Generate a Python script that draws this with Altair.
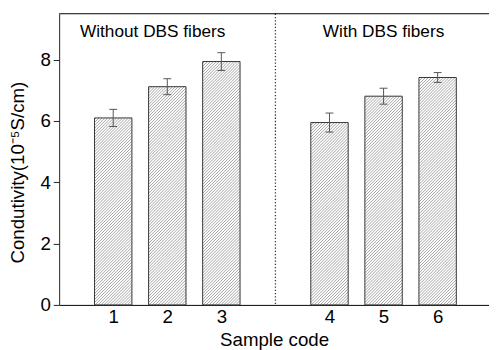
import altair as alt
import pandas as pd

# ---- data ----
samples = ["1", "2", "3", "4", "5", "6"]
groups = ["Without", "Without", "Without", "With", "With", "With"]
values = [6.10, 7.12, 7.94, 5.95, 6.81, 7.42]
errors = [0.28, 0.26, 0.29, 0.31, 0.26, 0.16]
group_titles = ["Without DBS fibers", "With DBS fibers"]
title_x = [1.73, 6.0]
title_y = [8.9, 8.9]

# ---- layout ----
W, H = 437, 296
XMIN, XMAX = 0.0, 7.95
YMIN, YMAX = 0.0, 9.5
BAR_PX = 38
CAP_PX = 8
HATCH_PX = 3.0
sx = W / (XMAX - XMIN)
sy = H / (YMAX - YMIN)
hw = BAR_PX / 2 / sx
chw = CAP_PX / 2 / sx

# position: sample index with a one-slot gap between the groups
pos = []
p = 0
prev = None
for g in groups:
    p += 1
    if prev is not None and g != prev:
        p += 1
    pos.append(p)
    prev = g
sep = (pos[2] + pos[3]) / 2

df = pd.DataFrame({"sample": samples, "pos": pos, "val": values, "err": errors})
df["base"] = 0.0
df["left"] = df["pos"] - hw
df["right"] = df["pos"] + hw
df["cl"] = df["pos"] - chw
df["cr"] = df["pos"] + chw
df["lo"] = df["val"] - df["err"]
df["hi"] = df["val"] + df["err"]

# hatch segments ("/" direction, 45 degrees on screen), clipped to each bar
rows = []
for _, r in df.iterrows():
    bw = BAR_PX
    bh = r["val"] * sy
    k = -bw + HATCH_PX / 2
    while k < bh:
        x0 = max(0.0, -k)
        x1 = min(bw, bh - k)
        if x1 > x0:
            rows.append({
                "hx": r["left"] + x0 / sx, "hy": (x0 + k) / sy,
                "hx2": r["left"] + x1 / sx, "hy2": (x1 + k) / sy,
            })
        k += HATCH_PX
hatch = pd.DataFrame(rows)

ann = pd.DataFrame({"t": group_titles, "x": title_x, "y": title_y})

label_expr = "''"
for ps, s in zip(reversed(pos), reversed(samples)):
    label_expr = f"datum.value == {ps} ? '{s}' : ({label_expr})"

FONT = "Liberation Sans"
xs = alt.Scale(domain=[XMIN, XMAX], nice=False, zero=False)
ys = alt.Scale(domain=[YMIN, YMAX], nice=False)

base = alt.Chart(df)

bars_fill = base.mark_rect(color="white").encode(
    x=alt.X("left:Q", scale=xs,
            axis=alt.Axis(values=pos, labelExpr=label_expr, title="Sample code",
                          ticks=False, grid=False, domainColor="black",
                          labelFontSize=19, labelPadding=3, labelColor="black",
                          titleFontSize=19, titleFontWeight="normal", titleColor="black",
                          titleBaseline="alphabetic", titleY=41, labelFlush=False)),
    x2="right:Q",
    y=alt.Y("val:Q", scale=ys,
            axis=alt.Axis(values=[0, 2, 4, 6, 8], title="Condutivity(10⁻⁵S/cm)",
                          grid=False, domainColor="#222222", tickColor="#222222",
                          tickSize=6, labelFontSize=19, labelPadding=3, labelColor="black",
                          titleFontSize=19, titleFontWeight="normal", titleColor="black",
                          titleBaseline="alphabetic", titleX=-36, titleY=161,
                          titleAngle=-90)),
    y2="base:Q",
)

hatch_layer = alt.Chart(hatch).mark_rule(color="#858585", strokeWidth=0.75).encode(
    x=alt.X("hx:Q", scale=xs), y=alt.Y("hy:Q", scale=ys),
    x2="hx2:Q", y2="hy2:Q",
)

bars_stroke = base.mark_rect(filled=False, stroke="#333333", strokeWidth=1).encode(
    x=alt.X("left:Q", scale=xs), x2="right:Q",
    y=alt.Y("val:Q", scale=ys), y2="base:Q",
)

err_rule = base.mark_rule(color="#555555", strokeWidth=1).encode(
    x=alt.X("pos:Q", scale=xs), y=alt.Y("lo:Q", scale=ys), y2="hi:Q",
)
err_lo = base.mark_rule(color="#555555", strokeWidth=1).encode(
    x=alt.X("cl:Q", scale=xs), x2="cr:Q", y=alt.Y("lo:Q", scale=ys),
)
err_hi = base.mark_rule(color="#555555", strokeWidth=1).encode(
    x=alt.X("cl:Q", scale=xs), x2="cr:Q", y=alt.Y("hi:Q", scale=ys),
)

sep_line = alt.Chart(pd.DataFrame({"s": [sep]})).mark_rule(
    color="#333333", strokeWidth=1.3, strokeDash=[1.3, 2]
).encode(x=alt.X("s:Q", scale=xs))

top_line = alt.Chart(pd.DataFrame({"s": [sep]})).mark_rule(
    color="black", strokeWidth=1
).encode(y=alt.value(0))

texts = alt.Chart(ann).mark_text(font=FONT, fontSize=17.5, color="black").encode(
    x=alt.X("x:Q", scale=xs), y=alt.Y("y:Q", scale=ys), text="t:N",
)

chart = alt.layer(
    bars_fill, hatch_layer, bars_stroke, err_rule, err_lo, err_hi,
    sep_line, top_line, texts
).properties(
    width=W, height=H,
    autosize=alt.AutoSizeParams(type="none"),
    padding={"left": 52, "top": 3, "right": 0, "bottom": 43},
).configure(font=FONT).configure_view(stroke=None)

chart.save("out.html", embed_options={"renderer": "svg", "actions": False})
